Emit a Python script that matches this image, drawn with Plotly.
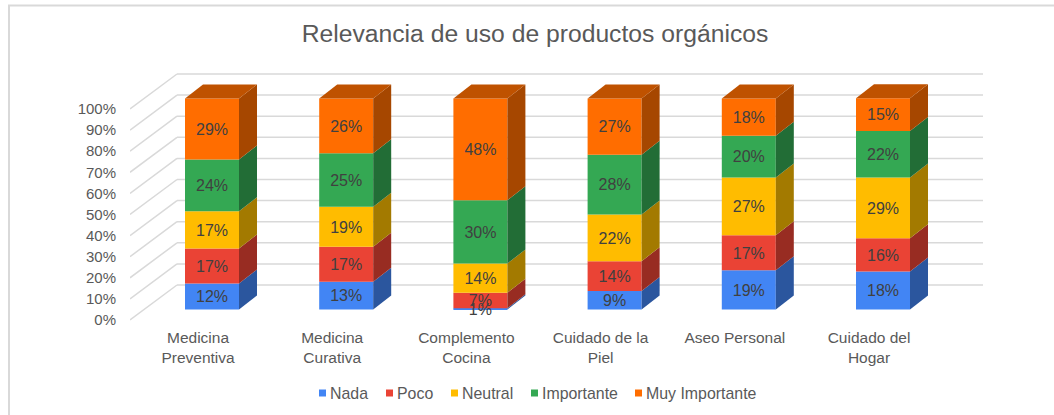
import plotly.graph_objects as go

W, H = 1054, 415
categories = ["Medicina<br>Preventiva", "Medicina<br>Curativa", "Complemento<br>Cocina",
              "Cuidado de la<br>Piel", "Aseo Personal", "Cuidado del<br>Hogar"]
series = ["Nada", "Poco", "Neutral", "Importante", "Muy Importante"]

nada = [12.3, 13.1, 0.6, 8.8, 18.6, 18.0]
poco = [16.6, 16.6, 7.3, 14.1, 16.6, 15.8]
neutral = [17.7, 19.0, 13.9, 22.1, 27.4, 28.8]
importante = [24.5, 25.3, 30.0, 28.3, 19.7, 22.0]
muy_importante = [28.9, 26.0, 48.2, 26.7, 17.7, 15.5]
values = [nada, poco, neutral, importante, muy_importante]

labels_nada = ["12%", "13%", "1%", "9%", "19%", "18%"]
labels_poco = ["17%", "17%", "7%", "14%", "17%", "16%"]
labels_neutral = ["17%", "19%", "14%", "22%", "27%", "29%"]
labels_importante = ["24%", "25%", "30%", "28%", "20%", "22%"]
labels_muy = ["29%", "26%", "48%", "27%", "18%", "15%"]
labels = [labels_nada, labels_poco, labels_neutral, labels_importante, labels_muy]

y_ticks = [0, 10, 20, 30, 40, 50, 60, 70, 80, 90, 100]
y_tick_text = [f"{v}%" for v in y_ticks]

front = ["#4285F4", "#EA4335", "#FFBC00", "#34A853", "#FF6D00"]
side = ["#2B569E", "#982C22", "#A37A00", "#226D36", "#A64700"]
top_color = "#BF5200"

# layout constants (pixels of the page)
legend_text_px = [330, 397, 462, 542, 646]
LEGEND_Y = 392.5
SWATCH = 7
FONT = "Liberation Sans, Arial, sans-serif"
GRID = "#D9D9D9"
L, R, T, B = 130, 990, 60, 322
PX_X, PX_Y = 134.2, 2.11
X0_PX, Y0_PX = 198, 320
x_range = [(L - X0_PX) / PX_X, (R - X0_PX) / PX_X]
y_range = [(Y0_PX - B) / PX_Y, (Y0_PX - T) / PX_Y]
BACK_DX, BACK_DV = 47 / PX_X, 35 / PX_Y
BAR_SHIFT_X, BAR_SHIFT_V = 14 / PX_X, 10.5 / PX_Y
BAR_W, DEPTH_X, DEPTH_V = 54 / PX_X, 18 / PX_X, 14 / PX_Y
GRID_END = (983 - X0_PX) / PX_X
TEXT_NUDGE = 1.8 / PX_Y


def paper_x(px):
    return (px - L) / (R - L)


def paper_y(px):
    return (B - px) / (B - T)


fig = go.Figure()
xs = [i + BAR_SHIFT_X for i in range(len(categories))]
cum = [BAR_SHIFT_V] * len(categories)
text_traces = []
for s, name in enumerate(series):
    bases = list(cum)
    tops = [b + v for b, v in zip(bases, values[s])]
    fig.add_trace(go.Bar(x=xs, y=values[s], base=bases, width=BAR_W, name=name,
                         marker=dict(color=front[s], line=dict(width=0)),
                         showlegend=False, hoverinfo="skip"))
    for x, b, t in zip(xs, bases, tops):
        xr = x + BAR_W / 2
        fig.add_trace(go.Scatter(x=[xr, xr + DEPTH_X, xr + DEPTH_X, xr, xr],
                                 y=[b, b + DEPTH_V, t + DEPTH_V, t, b],
                                 mode="lines", fill="toself", fillcolor=side[s],
                                 line=dict(width=0), showlegend=False, hoverinfo="skip"))
    text_traces.append(go.Scatter(x=xs, y=[(b + t) / 2 - TEXT_NUDGE for b, t in zip(bases, tops)],
                                  mode="text", text=labels[s], textposition="middle center",
                                  textfont=dict(family=FONT, size=16, color="#404040"),
                                  showlegend=False, hoverinfo="skip"))
    cum = tops

for x, t in zip(xs, cum):
    xl, xr = x - BAR_W / 2, x + BAR_W / 2
    fig.add_trace(go.Scatter(x=[xl, xr, xr + DEPTH_X, xl + DEPTH_X, xl],
                             y=[t, t, t + DEPTH_V, t + DEPTH_V, t],
                             mode="lines", fill="toself", fillcolor=top_color,
                             line=dict(width=0), showlegend=False, hoverinfo="skip"))
for tr in text_traces:
    fig.add_trace(tr)

# One small legend per series, so each entry sits where the reference has it.
# Plotly keeps a wide gap before the legend text, so the visible swatch is a
# small square right next to the text instead of the legend's own key.
layout_legends = {}
shapes = []
for s, name in enumerate(series):
    key = "legend" if s == 0 else f"legend{s + 1}"
    fig.add_trace(go.Scatter(x=[None], y=[None], mode="markers", name=name, legend=key,
                             marker=dict(symbol="square", size=8, color="rgba(0,0,0,0)"),
                             showlegend=True, hoverinfo="skip"))
    layout_legends[key] = dict(xref="container", yref="container", x=(legend_text_px[s] - 40) / W,
                               xanchor="left", y=1 - LEGEND_Y / H, yanchor="middle",
                               bgcolor="rgba(0,0,0,0)", borderwidth=0,
                               font=dict(family=FONT, size=15.9, color="#595959"))
    sx1 = legend_text_px[s] - 4
    shapes.append(dict(type="rect", xref="paper", yref="paper", layer="above",
                       x0=paper_x(sx1 - SWATCH), x1=paper_x(sx1),
                       y0=paper_y(393 + SWATCH / 2), y1=paper_y(393 - SWATCH / 2),
                       fillcolor=front[s], line=dict(width=0)))

for v in y_ticks:
    shapes.append(dict(type="line", xref="x", yref="y", layer="below", x0=(130 - X0_PX) / PX_X, y0=v,
                       x1=(130 - X0_PX) / PX_X + BACK_DX, y1=v + BACK_DV, line=dict(color=GRID, width=1.5)))
    shapes.append(dict(type="line", xref="x", yref="y", layer="below", x0=(130 - X0_PX) / PX_X + BACK_DX,
                       y0=v + BACK_DV, x1=GRID_END, y1=v + BACK_DV, line=dict(color=GRID, width=1.5)))
# outer frame of the picture
shapes.append(dict(type="line", xref="paper", yref="paper",
                   x0=paper_x(9), x1=paper_x(9), y0=paper_y(415), y1=paper_y(5.5),
                   line=dict(color=GRID, width=2)))
shapes.append(dict(type="line", xref="paper", yref="paper",
                   x0=paper_x(8), x1=paper_x(W), y0=paper_y(5.5), y1=paper_y(5.5),
                   line=dict(color=GRID, width=2)))

fig.update_layout(
    width=W, height=H, barmode="overlay", plot_bgcolor="white", paper_bgcolor="white",
    margin=dict(l=L, r=W - R, t=T, b=H - B, autoexpand=False),
    title=dict(text="Relevancia de uso de productos orgánicos", x=535 / W, xanchor="center",
               y=1 - 33 / H, yanchor="middle", font=dict(family=FONT, size=24.7, color="#595959")),
    xaxis=dict(range=x_range, tickmode="array", tickvals=list(range(len(categories))),
               ticktext=categories, showgrid=False, zeroline=False, showline=False,
               ticks="outside", ticklen=1, tickcolor="rgba(0,0,0,0)",
               tickfont=dict(family=FONT, size=15.5, color="#595959")),
    yaxis=dict(range=y_range, tickmode="array", tickvals=y_ticks, ticktext=y_tick_text,
               showgrid=False, zeroline=False, showline=False,
               ticks="outside", ticklen=10, tickcolor="rgba(0,0,0,0)",
               tickfont=dict(family=FONT, size=15, color="#595959")),
    shapes=shapes,
    **layout_legends,
)
fig.write_html("out.html", config={"displayModeBar": False},
               post_script="document.body.style.margin='0';document.body.style.overflow='hidden';")
